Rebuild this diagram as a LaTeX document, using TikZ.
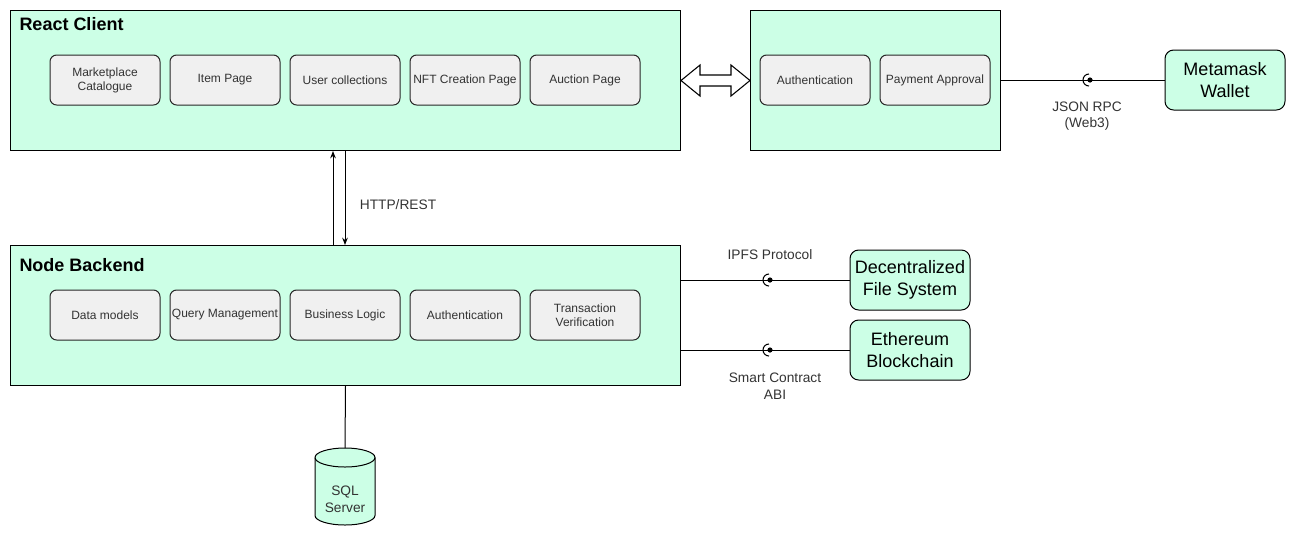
\documentclass[tikz,border=0pt]{standalone}
\usepackage{fontspec}
\setmainfont{Liberation Sans}
\usetikzlibrary{arrows.meta,calc}
\definecolor{mint}{HTML}{CCFFE6}
\definecolor{pane}{HTML}{F0F0F0}
\definecolor{ink}{HTML}{333333}
\begin{document}
\begin{tikzpicture}[x=0.75pt,y=-0.75pt,line width=0.75pt,
  container/.style={draw=black, fill=mint, anchor=north west, inner sep=0pt,
    minimum height=105pt},
  pagebox/.style={draw=black!85, fill=pane, rounded corners=5pt, minimum width=82.5pt,
    minimum height=37.5pt, align=center, text=ink, inner sep=1pt,
    font=\fontsize{9}{10.5}\selectfont},
  extbox/.style={draw=black, fill=mint, rounded corners=6.5pt, minimum width=90pt,
    minimum height=45pt, align=center, inner sep=1pt,
    font=\fontsize{13.5}{16.5}\selectfont},
  title/.style={anchor=west, inner sep=0pt, font=\fontsize{13.5}{16}\selectfont\bfseries},
  lbl/.style={align=center, text=ink, inner sep=0pt, font=\fontsize{10.3}{12.5}\selectfont},
  arr/.style={-{Stealth[length=5.5pt,width=4.2pt]}},
]
\useasboundingbox (0,0) rectangle (1297,537);

% containers
\node[container, minimum width=502.5pt] (rc) at (10,10) {};
\node[container, minimum width=187.5pt] (rb) at (750,10) {};
\node[container, minimum width=502.5pt] (nb) at (10,245) {};
\node[title] (rct) at (19,24) {React Client};
\node[title] (nbt) at (19,265) {Node Backend};

% react client pages
\node[pagebox] (p1) at (105,80) {Marketplace\\Catalogue};
\node[pagebox] (p2) at (225,80) {Item Page};
\node[pagebox] (p3) at (345,80) {User collections};
\node[pagebox] (p4) at (465,80) {NFT Creation Page};
\node[pagebox] (p5) at (585,80) {Auction Page};

% wallet side
\node[pagebox] (w1) at (815,80) {Authentication};
\node[pagebox] (w2) at (935,80) {Payment Approval};

% backend modules
\node[pagebox] (b1) at (105,315) {Data models};
\node[pagebox] (b2) at (225,315) {Query Management};
\node[pagebox] (b3) at (345,315) {Business Logic};
\node[pagebox] (b4) at (465,315) {Authentication};
\node[pagebox] (b5) at (585,315) {Transaction\\Verification};

% external systems
\node[extbox] (mm) at (1225,80) {Metamask\\Wallet};
\node[extbox] (dfs) at (910,280) {Decentralized\\File System};
\node[extbox] (eth) at (910,350) {Ethereum\\Blockchain};

% double arrow between client and wallet box
\draw[fill=white, line width=0.8pt]
  (rc.east |- 0,80.5) -- (700,65) -- (700,75) -- (731,75) -- (731,65)
  -- (rb.west |- 0,80.5) -- (731,96) -- (731,86) -- (700,86) -- (700,96) -- cycle;

% HTTP/REST
\coordinate (ux) at (333,0);
\coordinate (dx) at (345,0);
\draw[arr] (ux |- nb.north) -- (ux |- rc.south);
\draw[arr] (dx |- rc.south) -- (dx |- nb.north);
\node[lbl] (http) at (398,205) {HTTP/REST};

% socket connectors
\newcommand{\socket}[1]{%
  \draw[line width=0.8pt] ($(#1)+(0,-6)$) arc (90:270:6 and -6);
  \fill ($(#1)+(1,0)$) circle (2.6);}
\draw (rb.east |- mm) -- (mm);
\coordinate (s1) at (1089,80);
\socket{s1}
\node[lbl] (jr) at (1087,116) {JSON RPC\\(Web3)};

\draw (nb.east |- dfs) -- (dfs);
\coordinate (s2) at (769,280);
\socket{s2}
\node[lbl] (ipfs) at (770,255) {IPFS Protocol};

\draw (nb.east |- eth) -- (eth);
\coordinate (s3) at (769,350);
\socket{s3}
\node[lbl] (abi) at (775,386) {Smart Contract\\ABI};

% SQL server cylinder
\coordinate (sqltop) at (345,448);
\draw[fill=mint] (315,457.5) arc (180:360:30 and 9.5) -- (375,515.5)
  arc (0:180:30 and 9.5) -- cycle;
\draw (315,457.5) arc (180:0:30 and 9.5);
\node[lbl] (sql) at (345,499) {SQL\\Server};
\draw (nb.south) -- (sqltop);
\end{tikzpicture}
\end{document}
